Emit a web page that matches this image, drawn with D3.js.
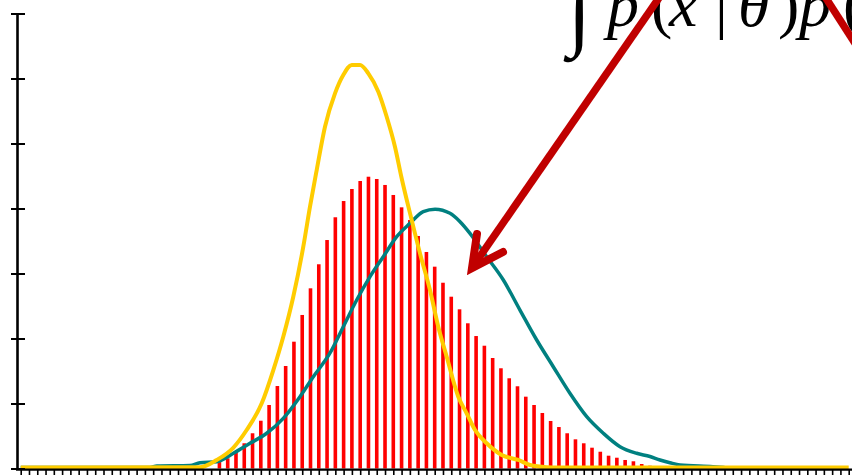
<!DOCTYPE html>
<html>
<head>
<meta charset="utf-8">
<script src="https://cdn.jsdelivr.net/npm/d3@7/dist/d3.min.js"></script>
<style>
  html, body { margin: 0; padding: 0; background: #fff; }
  svg { display: block; }
</style>
</head>
<body>
<div id="chart"></div>
<script>
// ---------------- data ----------------
// histogram bins: index on the x axis (0..100) and bar heights (y units, 7 = top tick)
const binCount = 100;
const yTicks = [0, 1, 2, 3, 4, 5, 6, 7];
const barStart = 24;
const barValues = [
  0.105, 0.157, 0.258, 0.388, 0.542, 0.735, 0.977, 1.269, 1.577, 1.951,
  2.362, 2.772, 3.142, 3.515, 3.865, 4.115, 4.300, 4.423, 4.489, 4.454,
  4.362, 4.208, 4.018, 3.823, 3.577, 3.331, 3.105, 2.858, 2.643, 2.449,
  2.234, 2.038, 1.889, 1.700, 1.542, 1.388, 1.265, 1.105, 0.977, 0.854,
  0.731, 0.638, 0.542, 0.449, 0.388, 0.320, 0.258, 0.197, 0.166, 0.131,
  0.111, 0.069, 0.043, 0.028
];
// yellow curve [x index, value]
const yellowCurve = [
  [0, 0.015], [21.65, 0.02], [23.67, 0.131], [25.64, 0.315], [27.29, 0.592],
  [29.11, 1.003], [30.51, 1.515], [31.71, 2.028], [32.92, 2.643], [34.13, 3.412],
  [34.94, 4.028], [35.75, 4.592], [36.75, 5.258], [37.96, 5.772], [38.96, 6.054],
  [39.98, 6.208], [40.98, 6.208], [41.98, 6.08], [43.19, 5.797], [44.20, 5.412],
  [45.20, 4.951], [46.01, 4.465], [47.22, 3.823], [48.22, 3.311], [49.43, 2.746],
  [50.43, 2.182], [51.45, 1.72], [52.85, 1.105], [53.86, 0.849], [54.87, 0.592],
  [56.28, 0.388], [58.09, 0.208], [60.10, 0.131], [61.51, 0.054], [63.53, 0.02],
  [65.1, 0.015], [100, 0.015]
];
// teal curve [x index, value]
const tealCurve = [
  [0, 0.015], [15.6, 0.015], [16.46, 0.038], [20.45, 0.046], [21.65, 0.089],
  [23.67, 0.105], [25.68, 0.234], [27.69, 0.388], [29.71, 0.542], [31.71, 0.772],
  [33.73, 1.105], [35.34, 1.412], [37.36, 1.777], [38.96, 2.182], [40.58, 2.592],
  [42.19, 2.951], [43.79, 3.258], [45.41, 3.566], [47.02, 3.772], [48.62, 3.951],
  [50.04, 3.988], [51.85, 3.926], [53.06, 3.797], [54.26, 3.618], [56.28, 3.258],
  [58.29, 2.9], [60.30, 2.438], [62.32, 1.977], [64.32, 1.566], [66.33, 1.157],
  [68.36, 0.797], [70.36, 0.542], [72.38, 0.335], [74.39, 0.234], [76.0, 0.185],
  [77.21, 0.131], [78.41, 0.089], [79.62, 0.054], [83.6, 0.028], [85, 0.015]
];
// formula glyphs (annotation)
const formulaGlyphs = ["p", "(", "x", "|", "θ", ")", "p", "("];

// ---------------- drawing ----------------
const W = 852, H = 475;
const svg = d3.select("#chart").append("svg").attr("width", W).attr("height", H);

const x = d3.scaleLinear().domain([0, binCount]).range([20.7, 848.7]);
const y = d3.scaleLinear().domain([0, 7]).range([468.5, 13.5]);

// bars
svg.append("g").selectAll("rect").data(barValues).join("rect")
  .attr("x", (d, i) => x(barStart + i) - 1.8)
  .attr("width", 3.6)
  .attr("y", d => y(d))
  .attr("height", d => y(0) - y(d))
  .attr("fill", "#ff0000");

// curves
const line = d3.line().x(d => x(d[0])).y(d => y(d[1])).curve(d3.curveMonotoneX);
svg.append("path").datum(tealCurve).attr("d", line)
  .attr("fill", "none").attr("stroke", "#008080").attr("stroke-width", 3.5)
  .attr("stroke-linejoin", "round");
svg.append("path").datum(yellowCurve).attr("d", line)
  .attr("fill", "none").attr("stroke", "#ffcc00").attr("stroke-width", 4)
  .attr("stroke-linejoin", "round");

// bottom axis
const xAxis = d3.axisBottom(x).tickValues(d3.range(0, binCount + 1)).tickSize(5.5).tickSizeOuter(0).tickFormat("");
const gx = svg.append("g").attr("transform", "translate(0,470)").call(xAxis);
gx.select(".domain").remove();
gx.selectAll(".tick line").attr("stroke", "#000").attr("stroke-width", 1.6);
svg.append("line").attr("x1", 16).attr("x2", 852).attr("y1", 469.6).attr("y2", 469.6)
  .attr("stroke", "#000").attr("stroke-width", 2.4);

// left axis
const yAxis = d3.axisLeft(y).tickValues(yTicks).tickSizeOuter(0).tickFormat("");
const gy = svg.append("g").attr("transform", "translate(17,0)").call(yAxis);
gy.select(".domain").attr("stroke", "#000").attr("stroke-width", 2.6);
gy.selectAll(".tick line").attr("x1", -6).attr("x2", 8).attr("stroke", "#000").attr("stroke-width", 2);

// formula text
const ft = svg.append("g").attr("font-family", "'Liberation Serif', 'Times New Roman', serif").attr("fill", "#000");
ft.append("text").attr("x", 568).attr("y", 40).attr("font-size", 84).text("∫");
const glyphX = [607, 651, 669, 715, 738, 778, 799, 843];
const italic = [true, false, true, false, true, false, true, false];
formulaGlyphs.forEach((g, i) => {
  ft.append("text").attr("x", glyphX[i]).attr("y", 26).attr("font-size", 64)
    .attr("font-style", italic[i] ? "italic" : "normal").text(g);
});

// red arrows
const arrowColor = "#c00000";
svg.append("line").attr("x1", 661).attr("y1", -5).attr("x2", 474).attr("y2", 265)
  .attr("stroke", arrowColor).attr("stroke-width", 7.5);
svg.append("path").attr("d", "M477,234 L472,268 L503,252")
  .attr("fill", "none").attr("stroke", arrowColor).attr("stroke-width", 8)
  .attr("stroke-linecap", "round").attr("stroke-linejoin", "miter");
svg.append("line").attr("x1", 822).attr("y1", -8).attr("x2", 858).attr("y2", 48)
  .attr("stroke", arrowColor).attr("stroke-width", 7.5);
</script>
</body>
</html>
